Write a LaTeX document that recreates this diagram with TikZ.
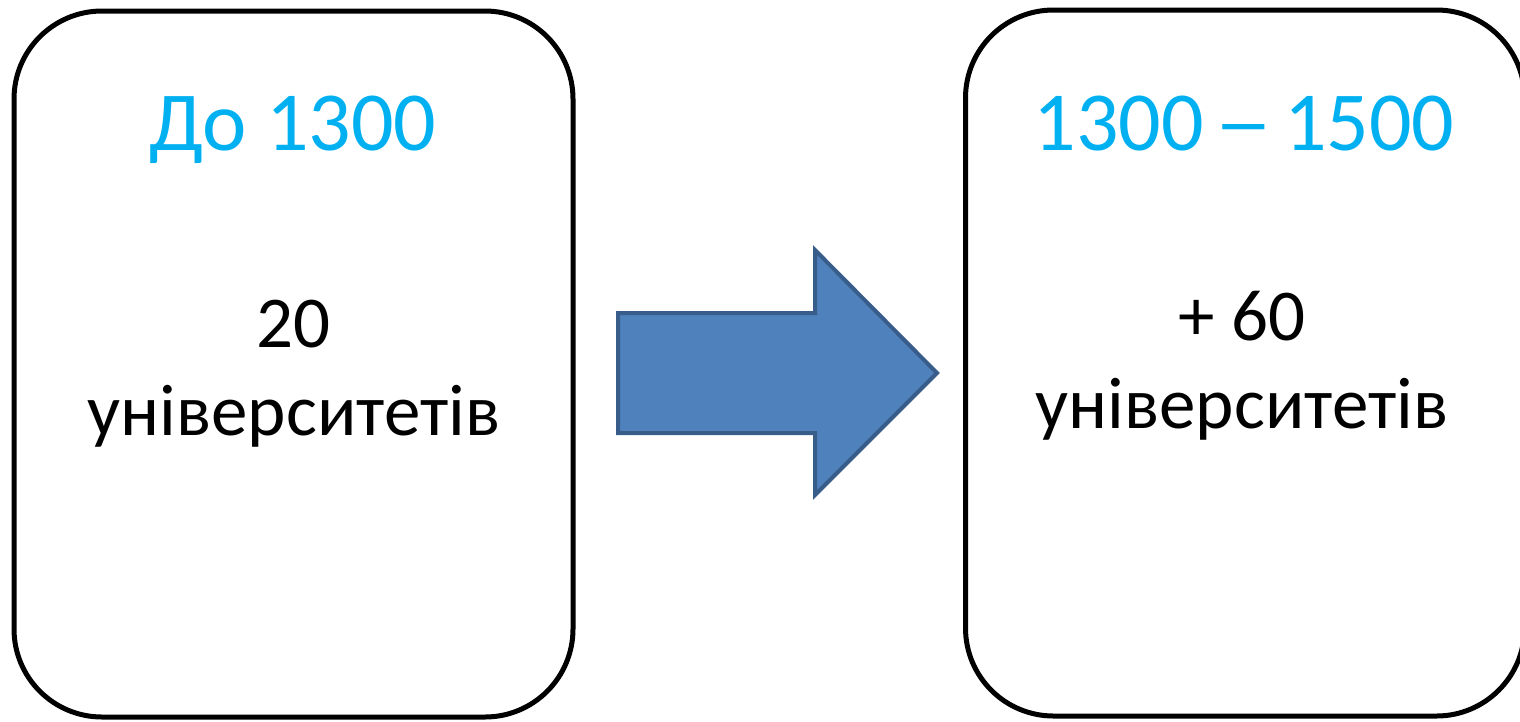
\documentclass[tikz,border=0pt]{standalone}
\usepackage{graphicx}
\usepackage{fontspec}
\setmainfont{Carlito}
\definecolor{titleblue}{HTML}{00B0F0}
\definecolor{arrowfill}{HTML}{4F81BD}
\definecolor{arrowline}{HTML}{385D8A}
\tikzset{
  box/.style={draw=black, line width=5pt, rounded corners=88pt, rectangle, inner sep=0pt},
  title/.style={anchor=base, text=titleblue, font=\fontsize{84}{100}\selectfont, inner sep=0pt},
  body/.style={anchor=base, text=black, font=\fontsize{73}{88}\selectfont, inner sep=0pt},
  blockarrow/.style={fill=arrowfill, draw=arrowline, line width=4pt, line join=miter}
}
\begin{document}
\begin{tikzpicture}[x=1pt,y=-1pt]
\useasboundingbox (0,0) rectangle (1520,721);
\node[box, minimum width=559pt, minimum height=706pt] (left) at (293.5,364) {};
\node[box, minimum width=559pt, minimum height=706pt] (right) at (1245,363) {};
\node[title] (t1) at (293,150) {До 1300};
\node[body] (n1) at (293,347) {20};
\node[body] (u1) at (294,435) {університетів};
\node[title] (t2) at (1244,150) {1300 \makebox[0.5em]{\scalebox{1.4}[1]{–}} 1500};
\node[body] (n2) at (1242,340) {+ 60};
\node[body] (u2) at (1242,428) {університетів};
\coordinate (a1) at (618,313);
\coordinate (a2) at (815,313);
\coordinate (a3) at (815,250);
\coordinate (tip) at (937,373);
\coordinate (a5) at (815,495);
\coordinate (a6) at (815,433);
\coordinate (a7) at (618,433);
\draw[blockarrow] (a1) -- (a2) -- (a3) -- (tip) -- (a5) -- (a6) -- (a7) -- cycle;
\end{tikzpicture}
\end{document}
